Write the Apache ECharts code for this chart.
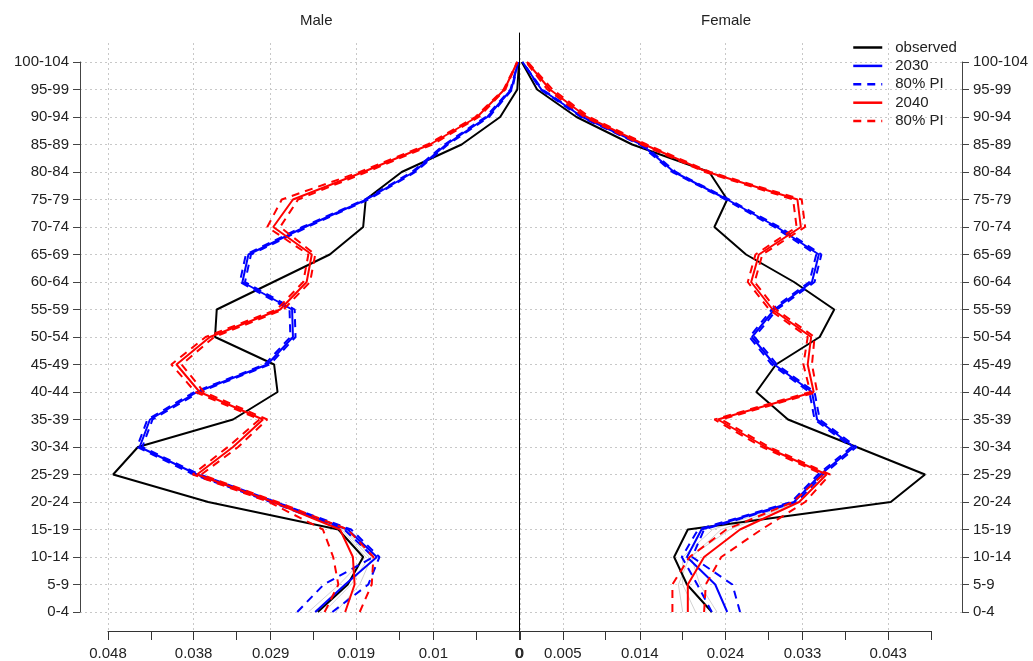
<!DOCTYPE html>
<html>
<head>
<meta charset="utf-8">
<script src="https://cdn.jsdelivr.net/npm/echarts@6/dist/echarts.min.js"></script>
<style>
  html, body {margin: 0; padding: 0; background: #fff;}
  #main {width: 1033px; height: 661px;}
</style>
</head>
<body>
<div id="main"></div>
<script>
// age groups, bottom to top
const ages = ['0-4','5-9','10-14','15-19','20-24','25-29','30-34','35-39','40-44','45-49','50-54',
  '55-59','60-64','65-69','70-74','75-79','80-84','85-89','90-94','95-99','100-104'];

// tick values shared by both x axes, and the labels each side shows
const xTicks = [0, 0.005, 0.01, 0.014, 0.019, 0.024, 0.029, 0.033, 0.038, 0.043, 0.048];
const maleLabels = [0, 0.01, 0.019, 0.029, 0.038, 0.048];
const femaleLabels = [0, 0.005, 0.014, 0.024, 0.033, 0.043];

// male proportions
const maleObserved = [0.0235, 0.0200, 0.0182, 0.0211, 0.0363, 0.0474, 0.0445, 0.0334, 0.0282, 0.0286, 0.0355,
  0.0353, 0.0287, 0.0221, 0.0182, 0.0179, 0.0137, 0.0067, 0.0022, 0.0002, 0.0000];
const male2030 = [0.0238, 0.0203, 0.0166, 0.0200, 0.0287, 0.0376, 0.0443, 0.0431, 0.0376, 0.0294, 0.0264,
  0.0265, 0.0323, 0.0316, 0.0250, 0.0178, 0.0123, 0.0085, 0.0037, 0.0009, 0.0001];
const male2030Hi = [0.0259, 0.0228, 0.0170, 0.0204, 0.0290, 0.0380, 0.0446, 0.0434, 0.0379, 0.0297, 0.0267,
  0.0268, 0.0326, 0.0319, 0.0253, 0.0180, 0.0125, 0.0087, 0.0039, 0.0010, 0.0001];
const male2030Lo = [0.0218, 0.0176, 0.0163, 0.0196, 0.0284, 0.0373, 0.0440, 0.0428, 0.0373, 0.0291, 0.0261,
  0.0262, 0.0320, 0.0313, 0.0247, 0.0176, 0.0121, 0.0083, 0.0035, 0.0008, 0.0001];
const male2040 = [0.0203, 0.0192, 0.0194, 0.0209, 0.0287, 0.0376, 0.0334, 0.0299, 0.0373, 0.0400, 0.0361,
  0.0279, 0.0248, 0.0242, 0.0287, 0.0264, 0.0182, 0.0104, 0.0049, 0.0017, 0.0002];
const male2040Hi = [0.0227, 0.0211, 0.0217, 0.0229, 0.0292, 0.0381, 0.0340, 0.0303, 0.0378, 0.0406, 0.0366,
  0.0283, 0.0252, 0.0246, 0.0294, 0.0277, 0.0186, 0.0107, 0.0051, 0.0018, 0.0002];
const male2040Lo = [0.0186, 0.0172, 0.0170, 0.0200, 0.0282, 0.0371, 0.0328, 0.0294, 0.0368, 0.0394, 0.0356,
  0.0275, 0.0244, 0.0238, 0.0279, 0.0258, 0.0178, 0.0101, 0.0047, 0.0016, 0.0002];
// a few visible grey trajectories at the young ages (0-4 .. 20-24)
const maleTraj1 = [0.0228, 0.0196, 0.0175, 0.0205, 0.0287];
const maleTraj2 = [0.0214, 0.0186, 0.0172, 0.0203, 0.0287];
const maleTraj3 = [0.0246, 0.0210, 0.0179, 0.0207, 0.0288];

// female proportions
const femaleObserved = [0.0224, 0.0195, 0.0180, 0.0196, 0.0433, 0.0473, 0.0393, 0.0313, 0.0276, 0.0299, 0.0350,
  0.0367, 0.0320, 0.0264, 0.0227, 0.0242, 0.0221, 0.0131, 0.0066, 0.0020, 0.0002];
const female2030 = [0.0242, 0.0228, 0.0195, 0.0212, 0.0320, 0.0351, 0.0390, 0.0347, 0.0341, 0.0297, 0.0271,
  0.0297, 0.0341, 0.0349, 0.0300, 0.0242, 0.0180, 0.0142, 0.0073, 0.0025, 0.0003];
const female2030Hi = [0.0257, 0.0248, 0.0201, 0.0215, 0.0323, 0.0354, 0.0393, 0.0350, 0.0344, 0.0300, 0.0274,
  0.0300, 0.0344, 0.0352, 0.0303, 0.0244, 0.0182, 0.0144, 0.0075, 0.0026, 0.0003];
const female2030Lo = [0.0224, 0.0207, 0.0189, 0.0208, 0.0317, 0.0348, 0.0387, 0.0344, 0.0338, 0.0294, 0.0268,
  0.0294, 0.0338, 0.0346, 0.0297, 0.0240, 0.0178, 0.0140, 0.0071, 0.0024, 0.0003];
const female2040 = [0.0196, 0.0196, 0.0215, 0.0257, 0.0326, 0.0358, 0.0287, 0.0231, 0.0343, 0.0336, 0.0340,
  0.0295, 0.0270, 0.0279, 0.0328, 0.0324, 0.0219, 0.0145, 0.0078, 0.0035, 0.0008];
const female2040Hi = [0.0215, 0.0217, 0.0235, 0.0282, 0.0333, 0.0362, 0.0291, 0.0235, 0.0347, 0.0341, 0.0344,
  0.0299, 0.0274, 0.0283, 0.0333, 0.0329, 0.0222, 0.0148, 0.0081, 0.0038, 0.0009];
const female2040Lo = [0.0178, 0.0178, 0.0198, 0.0241, 0.0319, 0.0354, 0.0283, 0.0227, 0.0339, 0.0331, 0.0336,
  0.0291, 0.0266, 0.0275, 0.0323, 0.0319, 0.0216, 0.0142, 0.0075, 0.0032, 0.0007];
const femaleTraj1 = [0.0205, 0.0190, 0.0190, 0.0225, 0.0320];
const femaleTraj2 = [0.0230, 0.0210, 0.0200, 0.0235, 0.0322];
const femaleTraj3 = [0.0190, 0.0185, 0.0198, 0.0245, 0.0324];

const font = '"Liberation Sans", Arial, sans-serif';
const textColor = '#222';
const gridColor = '#c8c8c8';
const dash = [8, 6];

// same px per unit on both panels; the data grids are wider than the axis lines
const pxPerUnit = 411 / 0.048;
const maleMax = 439 / pxPerUnit;
const femaleMax = 442 / pxPerUnit;

const toPts = arr => arr.map((v, i) => [v, ages[i]]);

function line(name, arr, color, dashed, xi, yi, width) {
  return {
    type: 'line', name: name, data: toPts(arr),
    xAxisIndex: xi, yAxisIndex: yi,
    symbol: 'none', silent: true, animation: false,
    lineStyle: {color: color, width: width || 2, type: dashed ? dash : 'solid'},
    itemStyle: {color: color}
  };
}

const chart = echarts.init(document.getElementById('main'));

const catAxis = (grid, pos) => ({
  type: 'category', gridIndex: grid, data: ages, position: pos, boundaryGap: false,
  axisLine: {show: true, onZero: false, lineStyle: {color: '#444'}},
  axisTick: {show: true, length: 7, inside: false, interval: 0, lineStyle: {color: '#444'}},
  axisLabel: {interval: 0, margin: 11, color: textColor, fontSize: 15, fontFamily: font},
  splitLine: {show: true, interval: 0, lineStyle: {color: gridColor, type: [2, 3]}}
});

const tickAxis = (grid, inverse, labels) => ({
  type: 'value', gridIndex: grid, min: 0, max: 0.048, inverse: inverse, position: 'bottom',
  axisLine: {show: true, onZero: false, lineStyle: {color: '#333'}},
  axisTick: {show: true, length: 9, customValues: xTicks, lineStyle: {color: '#333'}},
  axisLabel: {customValues: labels, margin: 15, color: textColor, fontSize: 15, fontFamily: font,
    formatter: v => String(v)},
  splitLine: {show: false}
});

const gridAxis = (grid, inverse, labels) => ({
  type: 'value', gridIndex: grid, min: 0, max: 0.048, inverse: inverse, position: 'top',
  axisLine: {show: false, onZero: false}, axisLabel: {show: false},
  axisTick: {show: false, customValues: labels},
  splitLine: {show: true, lineStyle: {color: gridColor, type: [2, 3]}}
});

const hiddenY = grid => ({type: 'value', gridIndex: grid, min: 0, max: 1, show: false});
const grey = '#d2d2d2';

chart.setOption({
  backgroundColor: '#fff',
  animation: false,
  textStyle: {fontFamily: font},
  title: [
    {text: 'Male', left: 295, top: 8, textStyle: {fontSize: 15, fontWeight: 'normal', color: textColor, fontFamily: font}},
    {text: 'Female', left: 696, top: 8, textStyle: {fontSize: 15, fontWeight: 'normal', color: textColor, fontFamily: font}}
  ],
  legend: {
    orient: 'vertical', left: 847, top: 35,
    itemWidth: 29, itemHeight: 12, itemGap: 3.4,
    data: ['observed', '2030', '80% PI', '2040', '80% PI '],
    formatter: name => name.trim(),
    itemStyle: {opacity: 0},
    lineStyle: {width: 2.5},
    textStyle: {fontSize: 15, color: textColor, lineHeight: 15, padding: [0, 0, 0, 8], fontFamily: font},
    selectedMode: false
  },
  grid: [
    {left: 80, right: 514, top: 62, bottom: 49},   // male data
    {left: 108, right: 514, top: 43, bottom: 28},  // male x axis + grid lines
    {left: 520, right: 71, top: 62, bottom: 49},   // female data
    {left: 520, right: 102, top: 43, bottom: 28},  // female x axis + grid lines
    {left: 519, width: 1, top: 33, bottom: 28}     // centre line
  ],
  xAxis: [
    {type: 'value', gridIndex: 0, min: 0, max: maleMax, inverse: true, show: false},
    tickAxis(1, true, maleLabels),
    gridAxis(1, true, maleLabels),
    {type: 'value', gridIndex: 2, min: 0, max: femaleMax, show: false},
    tickAxis(3, false, femaleLabels),
    gridAxis(3, false, femaleLabels),
    {type: 'value', gridIndex: 4, min: 0, max: 1, show: false}
  ],
  yAxis: [
    catAxis(0, 'left'),
    hiddenY(1),
    catAxis(2, 'right'),
    hiddenY(3),
    {type: 'value', gridIndex: 4, min: 0, max: 1, position: 'left',
      axisLine: {show: true, onZero: false, lineStyle: {color: '#000', width: 1}},
      axisTick: {show: false}, axisLabel: {show: false}, splitLine: {show: false}}
  ],
  series: [
    line('trajectory', maleTraj1, grey, false, 0, 0, 1),
    line('trajectory', maleTraj2, grey, false, 0, 0, 1),
    line('trajectory', maleTraj3, grey, false, 0, 0, 1),
    line('observed', maleObserved, '#000', false, 0, 0),
    line('2030', male2030, '#0000ff', false, 0, 0),
    line('80% PI', male2030Hi, '#0000ff', true, 0, 0),
    line('80% PI', male2030Lo, '#0000ff', true, 0, 0),
    line('2040', male2040, '#ff0000', false, 0, 0),
    line('80% PI ', male2040Hi, '#ff0000', true, 0, 0),
    line('80% PI ', male2040Lo, '#ff0000', true, 0, 0),

    line('trajectory', femaleTraj1, grey, false, 3, 2, 1),
    line('trajectory', femaleTraj2, grey, false, 3, 2, 1),
    line('trajectory', femaleTraj3, grey, false, 3, 2, 1),
    line('observed', femaleObserved, '#000', false, 3, 2),
    line('2030', female2030, '#0000ff', false, 3, 2),
    line('80% PI', female2030Hi, '#0000ff', true, 3, 2),
    line('80% PI', female2030Lo, '#0000ff', true, 3, 2),
    line('2040', female2040, '#ff0000', false, 3, 2),
    line('80% PI ', female2040Hi, '#ff0000', true, 3, 2),
    line('80% PI ', female2040Lo, '#ff0000', true, 3, 2)
  ]
});
</script>
</body>
</html>
